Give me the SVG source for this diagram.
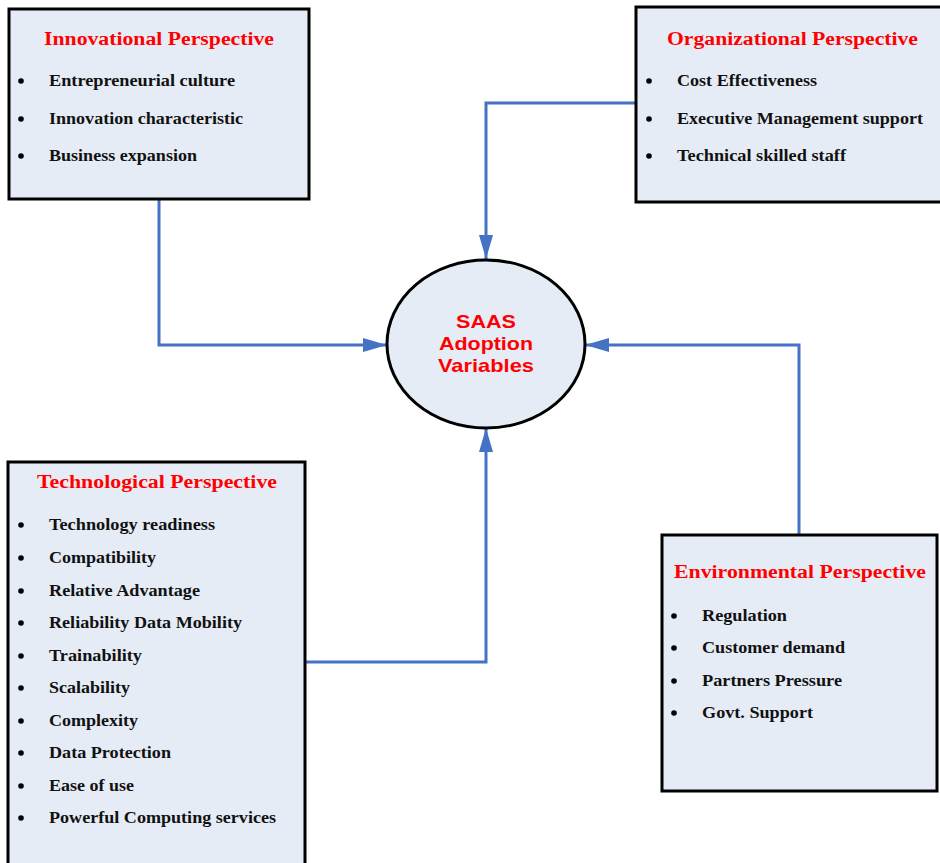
<svg xmlns="http://www.w3.org/2000/svg" width="940" height="863" viewBox="0 0 940 863">
<defs>
<marker id="arr" markerUnits="userSpaceOnUse" markerWidth="24" markerHeight="16" refX="24" refY="8" orient="auto">
<path d="M0,1 L24,8 L0,15 Z" fill="#4472C4"/>
</marker>
<style>
.box{fill:#E6ECF6;stroke:#000;stroke-width:3}
.title{font-family:"Liberation Serif","Times New Roman",serif;font-weight:bold;font-size:18.5px;fill:#FF0000}
.item{font-family:"Liberation Serif","Times New Roman",serif;font-weight:bold;font-size:16px;fill:#111}
.bul{fill:#000}
.conn{fill:none;stroke:#4472C4;stroke-width:3;marker-end:url(#arr)}
.center{font-family:"Liberation Sans",Arial,sans-serif;font-weight:bold;font-size:19px;fill:#FF0000}
</style>
</defs>
<rect width="940" height="863" fill="#fff"/>
<g id="connectors">
<path class="conn" d="M159,199 V345 H387"/>
<path class="conn" d="M636,103 H486 V259"/>
<path class="conn" d="M799,535 V345 H585"/>
<path class="conn" d="M305,662 H486 V428"/>
</g>
<g id="innovational">
<rect class="box" x="9" y="9" width="300" height="190"/>
<text class="title" x="44" y="45" textLength="230" lengthAdjust="spacingAndGlyphs">Innovational Perspective</text>
<circle class="bul" cx="21" cy="81" r="2.8"/>
<circle class="bul" cx="21" cy="119" r="2.8"/>
<circle class="bul" cx="21" cy="156" r="2.8"/>
<text class="item" x="49" y="86" textLength="186" lengthAdjust="spacingAndGlyphs">Entrepreneurial culture</text>
<text class="item" x="49" y="124" textLength="194" lengthAdjust="spacingAndGlyphs">Innovation characteristic</text>
<text class="item" x="49" y="161" textLength="148" lengthAdjust="spacingAndGlyphs">Business expansion</text>
</g>
<g id="organizational">
<rect class="box" x="636" y="7" width="306" height="195"/>
<text class="title" x="667" y="45" textLength="251" lengthAdjust="spacingAndGlyphs">Organizational Perspective</text>
<circle class="bul" cx="649" cy="81" r="2.8"/>
<circle class="bul" cx="649" cy="119" r="2.8"/>
<circle class="bul" cx="649" cy="156" r="2.8"/>
<text class="item" x="677" y="86" textLength="140" lengthAdjust="spacingAndGlyphs">Cost Effectiveness</text>
<text class="item" x="677" y="124" textLength="246" lengthAdjust="spacingAndGlyphs">Executive Management support</text>
<text class="item" x="677" y="161" textLength="169" lengthAdjust="spacingAndGlyphs">Technical skilled staff</text>
</g>
<g id="saas">
<ellipse cx="486" cy="344" rx="99" ry="84" fill="#E6ECF6" stroke="#000" stroke-width="3"/>
<text class="center" x="456" y="328" textLength="60" lengthAdjust="spacingAndGlyphs">SAAS</text>
<text class="center" x="439" y="350" textLength="94" lengthAdjust="spacingAndGlyphs">Adoption</text>
<text class="center" x="438" y="372" textLength="96" lengthAdjust="spacingAndGlyphs">Variables</text>
</g>
<g id="technological">
<rect class="box" x="8" y="462" width="297" height="410"/>
<text class="title" x="37" y="488" textLength="240" lengthAdjust="spacingAndGlyphs">Technological Perspective</text>
<g class="bul">
<circle cx="21" cy="525" r="2.8"/>
<circle cx="21" cy="558" r="2.8"/>
<circle cx="21" cy="591" r="2.8"/>
<circle cx="21" cy="623" r="2.8"/>
<circle cx="21" cy="656" r="2.8"/>
<circle cx="21" cy="688" r="2.8"/>
<circle cx="21" cy="721" r="2.8"/>
<circle cx="21" cy="753" r="2.8"/>
<circle cx="21" cy="786" r="2.8"/>
<circle cx="21" cy="818" r="2.8"/>
</g>
<text class="item" x="49" y="530" textLength="166" lengthAdjust="spacingAndGlyphs">Technology readiness</text>
<text class="item" x="49" y="563" textLength="107" lengthAdjust="spacingAndGlyphs">Compatibility</text>
<text class="item" x="49" y="596" textLength="151" lengthAdjust="spacingAndGlyphs">Relative Advantage</text>
<text class="item" x="49" y="628" textLength="193" lengthAdjust="spacingAndGlyphs">Reliability Data Mobility</text>
<text class="item" x="49" y="661" textLength="93" lengthAdjust="spacingAndGlyphs">Trainability</text>
<text class="item" x="49" y="693" textLength="81" lengthAdjust="spacingAndGlyphs">Scalability</text>
<text class="item" x="49" y="726" textLength="89" lengthAdjust="spacingAndGlyphs">Complexity</text>
<text class="item" x="49" y="758" textLength="122" lengthAdjust="spacingAndGlyphs">Data Protection</text>
<text class="item" x="49" y="791" textLength="85" lengthAdjust="spacingAndGlyphs">Ease of use</text>
<text class="item" x="49" y="823" textLength="227" lengthAdjust="spacingAndGlyphs">Powerful Computing services</text>
</g>
<g id="environmental">
<rect class="box" x="662" y="535" width="275" height="256"/>
<text class="title" x="674" y="578" textLength="252" lengthAdjust="spacingAndGlyphs">Environmental Perspective</text>
<circle class="bul" cx="674" cy="616" r="2.8"/>
<circle class="bul" cx="674" cy="648" r="2.8"/>
<circle class="bul" cx="674" cy="681" r="2.8"/>
<circle class="bul" cx="674" cy="713" r="2.8"/>
<text class="item" x="702" y="621" textLength="85" lengthAdjust="spacingAndGlyphs">Regulation</text>
<text class="item" x="702" y="653" textLength="143" lengthAdjust="spacingAndGlyphs">Customer demand</text>
<text class="item" x="702" y="686" textLength="140" lengthAdjust="spacingAndGlyphs">Partners Pressure</text>
<text class="item" x="702" y="718" textLength="111" lengthAdjust="spacingAndGlyphs">Govt. Support</text>
</g>
</svg>
